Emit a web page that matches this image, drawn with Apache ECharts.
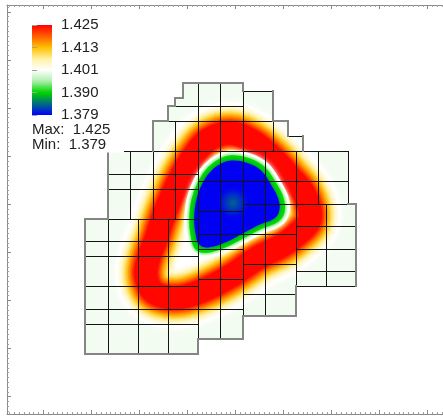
<!DOCTYPE html>
<html>
<head>
<meta charset="utf-8">
<script src="https://cdn.jsdelivr.net/npm/echarts@6.0.0/dist/echarts.min.js"></script>
<style>
html,body{margin:0;padding:0;background:#ffffff;}
#chart{width:443px;height:416px;}
</style>
</head>
<body>
<div id="chart"></div>
<script>
// ---------------- data (mesh units) ----------------
const colorbarTicks = ['1.379', '1.390', '1.401', '1.413', '1.425'];
const fieldMin = 1.379;
const fieldMax = 1.425;

// outer outline of the mesh
const meshOutline = [[0,0],[15,0],[15,2],[21,2],[21,5],[28,5],[28,9],[36,9],[36,20],[35,20],[35,27],[29,27],[29,29],[27,29],[27,31],[25,31],[25,35],[21,35],[21,36],[13,36],[13,34],[12,34],[12,33],[11,33],[11,31],[9,31],[9,27],[3,27],[3,18],[0,18]];

// cell edges drawn dark: vertical [x, y0, y1], horizontal [y, x0, x1]
const innerV = [[3,0,18],[6,18,27],[7,0,18],[9,18,27],[11,0,18],[12,18,31],[15,2,36],[18,2,36],[21,5,35],[24,5,27],[25,27,31],[28,9,27],[31,20,27],[32,9,20],[35,20,27]];
const innerH = [[4,0,15],[6,0,21],[8,21,28],[9,0,15],[9,28,36],[10,15,21],[11,28,36],[12,21,28],[13,0,15],[14,15,21],[14,28,36],[15,0,15],[16,15,28],[17,28,36],[18,3,15],[19,15,21],[20,21,35],[22,3,15],[23,15,35],[24,3,15],[27,3,35],[29,27,29],[31,11,25],[33,12,21],[35,21,25]];
// outline edges drawn grey
const edgeV = [[0,0,18],[3,18,27],[9,27,31],[11,31,33],[12,33,34],[13,34,36],[21,35,36],[25,31,35],[27,29,31],[29,27,29],[36,9,20],[28,5,9],[21,2,5],[15,0,2]];
const edgeH = [[0,0,15],[2,15,21],[5,21,28],[18,0,3],[20,35,36],[31,9,11],[31,25,27],[33,11,12],[34,12,13],[36,13,21]];

// ridge of the maximum (1.425) ring
const ridgeMax = [[19.3,29.4],[22.2,28.3],[24.9,26.1],[27.3,23.5],[29.0,21.5],[29.9,19.2],[29.8,17.6],[28.3,16.0],[26.2,14.4],[23.0,12.8],[19.6,10.5],[16.0,8.6],[12.4,7.5],[9.3,8.1],[8.1,10.4],[8.6,13.2],[9.3,14.9],[10.5,18.5],[11.6,21.1],[12.9,23.8],[14.6,26.5],[16.4,28.5]];
// 1.390 iso-line around the minimum
const contour1390 = [[19.6,26.1],[21.8,25.7],[23.7,24.6],[25.1,22.6],[26.1,20.6],[26.2,18.9],[25.4,17.8],[23.4,17.0],[21.1,15.8],[18.8,14.6],[16.2,13.8],[14.9,14.2],[14.4,15.7],[14.2,17.8],[14.5,20.5],[15.4,22.9],[16.6,24.6],[18.1,25.7]];
const troughCentre = [19.7, 20.1];

// ---------------- styles ----------------
const cellColor = '#f3fcf1';
const ringBands = [
  {w: 62, c: '#ffffff', b: 8},
  {w: 54, c: '#fffbe6', b: 5},
  {w: 48, c: '#fff1a8', b: 4},
  {w: 43, c: '#ffe066', b: 3},
  {w: 39, c: '#ffc526', b: 3},
  {w: 35, c: '#ffa000', b: 3},
  {w: 31, c: '#ff7000', b: 3},
  {w: 27, c: '#ff3c00', b: 3},
  {w: 23, c: '#ff0600', b: 3}
];
const troughBands = [
  {w: 15, c: '#ffffff', b: 5},
  {w: 9, c: '#c6f7c0', b: 3},
  {w: 5, c: '#00dc00', b: 2}
];
const colorbarStops = [
  {offset: 0, color: '#ff0000'}, {offset: 0.12, color: '#ff5a00'},
  {offset: 0.25, color: '#ffc000'}, {offset: 0.38, color: '#fff2a8'},
  {offset: 0.5, color: '#ffffff'}, {offset: 0.62, color: '#b0f0b0'},
  {offset: 0.75, color: '#00d400'}, {offset: 0.87, color: '#00707a'},
  {offset: 1, color: '#0000ff'}
];
const frameColor = '#8a8a8a';
const fontFam = '"Liberation Sans", Arial, sans-serif';

// ---------------- build ----------------
const segs = [];
innerV.forEach(v => segs.push([v[0], v[1], v[0], v[2], 0]));
innerH.forEach(h => segs.push([h[1], h[0], h[2], h[0], 0]));
edgeV.forEach(v => segs.push([v[0], v[1], v[0], v[2], 1]));
edgeH.forEach(h => segs.push([h[1], h[0], h[2], h[0], 1]));

function frameAxis(pos, min, max, split, grid) {
  return {
    type: 'value', gridIndex: grid, position: pos, min: min, max: max, splitNumber: split,
    axisLine: {show: true, onZero: false, lineStyle: {color: frameColor, width: 1}},
    axisTick: {show: true, inside: true, length: 4, lineStyle: {color: frameColor}},
    minorTick: {show: true, splitNumber: 10, length: 2, lineStyle: {color: '#a0a0a0'}},
    axisLabel: {show: false}, splitLine: {show: false}, minorSplitLine: {show: false}
  };
}

const chart = echarts.init(document.getElementById('chart'), null, {renderer: 'canvas'});
const option = {
  animation: false,
  backgroundColor: '#ffffff',
  grid: [
    {left: 7, top: 5, right: 0, bottom: 2},
    {left: 32, top: 25, width: 20, height: 90}
  ],
  xAxis: [
    frameAxis('bottom', -0.7555, 8.3184, 9, 0),
    {type: 'value', gridIndex: 0, position: 'bottom', min: -10.372, max: 47.606, show: false},
    frameAxis('top', -0.7555, 8.3184, 9, 0),
    {type: 'value', gridIndex: 1, min: 0, max: 1, show: false}
  ],
  yAxis: [
    frameAxis('left', -0.3597, 8.1435, 8, 0),
    {type: 'value', gridIndex: 0, position: 'left', min: -7.979, max: 46.41, show: false},
    {
      type: 'category', gridIndex: 1, data: colorbarTicks, boundaryGap: false, position: 'right', z: 10,
      axisLine: {show: false},
      axisTick: {show: true, length: 5, lineStyle: {color: '#a0a0a0'}},
      axisLabel: {fontSize: 15, color: '#222', margin: 9, fontFamily: fontFam},
      splitLine: {show: false}
    }
  ],
  graphic: [
    {type: 'rect', z: 5, left: 28, top: 18, shape: {width: 96, height: 134.5}, style: {fill: '#ffffff'}},
    {type: 'text', z: 10, left: 32, top: 122, style: {text: 'Max:  ' + fieldMax.toFixed(3), font: '15px ' + fontFam, fill: '#222'}},
    {type: 'text', z: 10, left: 32, top: 137, style: {text: 'Min:  ' + fieldMin.toFixed(3), font: '15px ' + fontFam, fill: '#222'}}
  ],
  series: [
    {
      type: 'custom', xAxisIndex: 1, yAxisIndex: 1, z: 2, data: [[0, 0]],
      renderItem: function (params, api) {
        return {type: 'polygon', shape: {points: meshOutline.map(p => api.coord(p))}, style: {fill: cellColor}};
      }
    },
    {
      type: 'custom', xAxisIndex: 1, yAxisIndex: 1, z: 3, data: [[0, 0]],
      renderItem: function (params, api) {
        const clip = meshOutline.map(p => api.coord(p));
        const ridge = ridgeMax.map(p => api.coord(p));
        const iso = contour1390.map(p => api.coord(p));
        const c = api.coord(troughCentre);
        const kids = [];
        ringBands.forEach((b, i) => kids.push({
          type: 'polygon', shape: {points: ridge, smooth: 0.4},
          style: {fill: i === 0 ? '#ffffff' : 'none', stroke: b.c, lineWidth: b.w, lineJoin: 'round', shadowBlur: b.b, shadowColor: b.c}
        }));
        troughBands.forEach(b => kids.push({
          type: 'polygon', shape: {points: iso, smooth: 0.4},
          style: {fill: b.c, stroke: b.c, lineWidth: b.w, lineJoin: 'round', shadowBlur: b.b, shadowColor: b.c}
        }));
        kids.push({
          type: 'group', originX: c[0], originY: c[1], scaleX: 0.94, scaleY: 0.94,
          children: [{type: 'polygon', shape: {points: iso, smooth: 0.4}, style: {fill: '#0000f2', shadowBlur: 4, shadowColor: '#00606a'}}]
        });
        const r = api.size([2.4, 2.4]);
        kids.push({
          type: 'circle', shape: {cx: c[0], cy: c[1], r: r[0]},
          style: {fill: {type: 'radial', x: 0.5, y: 0.5, r: 0.5, colorStops: [
            {offset: 0, color: 'rgba(0,105,130,1)'}, {offset: 0.5, color: 'rgba(0,70,180,0.6)'}, {offset: 1, color: 'rgba(0,0,242,0)'}]}}
        });
        return {type: 'group', clipPath: {type: 'polygon', shape: {points: clip}}, children: kids};
      }
    },
    {
      type: 'custom', xAxisIndex: 1, yAxisIndex: 1, z: 4, data: segs,
      renderItem: function (params, api) {
        const a = api.coord([api.value(0), api.value(1)]);
        const b = api.coord([api.value(2), api.value(3)]);
        const edge = api.value(4) === 1;
        const off = edge ? 0 : 0.5;
        const snap = v => Math.round(v) + off;
        return {
          type: 'line',
          shape: {x1: snap(a[0]), y1: snap(a[1]), x2: snap(b[0]), y2: snap(b[1])},
          style: {stroke: edge ? '#858585' : '#141414', lineWidth: edge ? 2 : 1, lineCap: 'square'}
        };
      }
    },
    {
      type: 'custom', xAxisIndex: 3, yAxisIndex: 2, z: 10, data: [[0, 0]],
      renderItem: function (params, api) {
        const cs = params.coordSys;
        return {type: 'rect', shape: {x: cs.x, y: cs.y, width: cs.width, height: cs.height},
          style: {fill: {type: 'linear', x: 0, y: 0, x2: 0, y2: 1, colorStops: colorbarStops}}};
      }
    }
  ]
};
chart.setOption(option);
</script>
</body>
</html>
